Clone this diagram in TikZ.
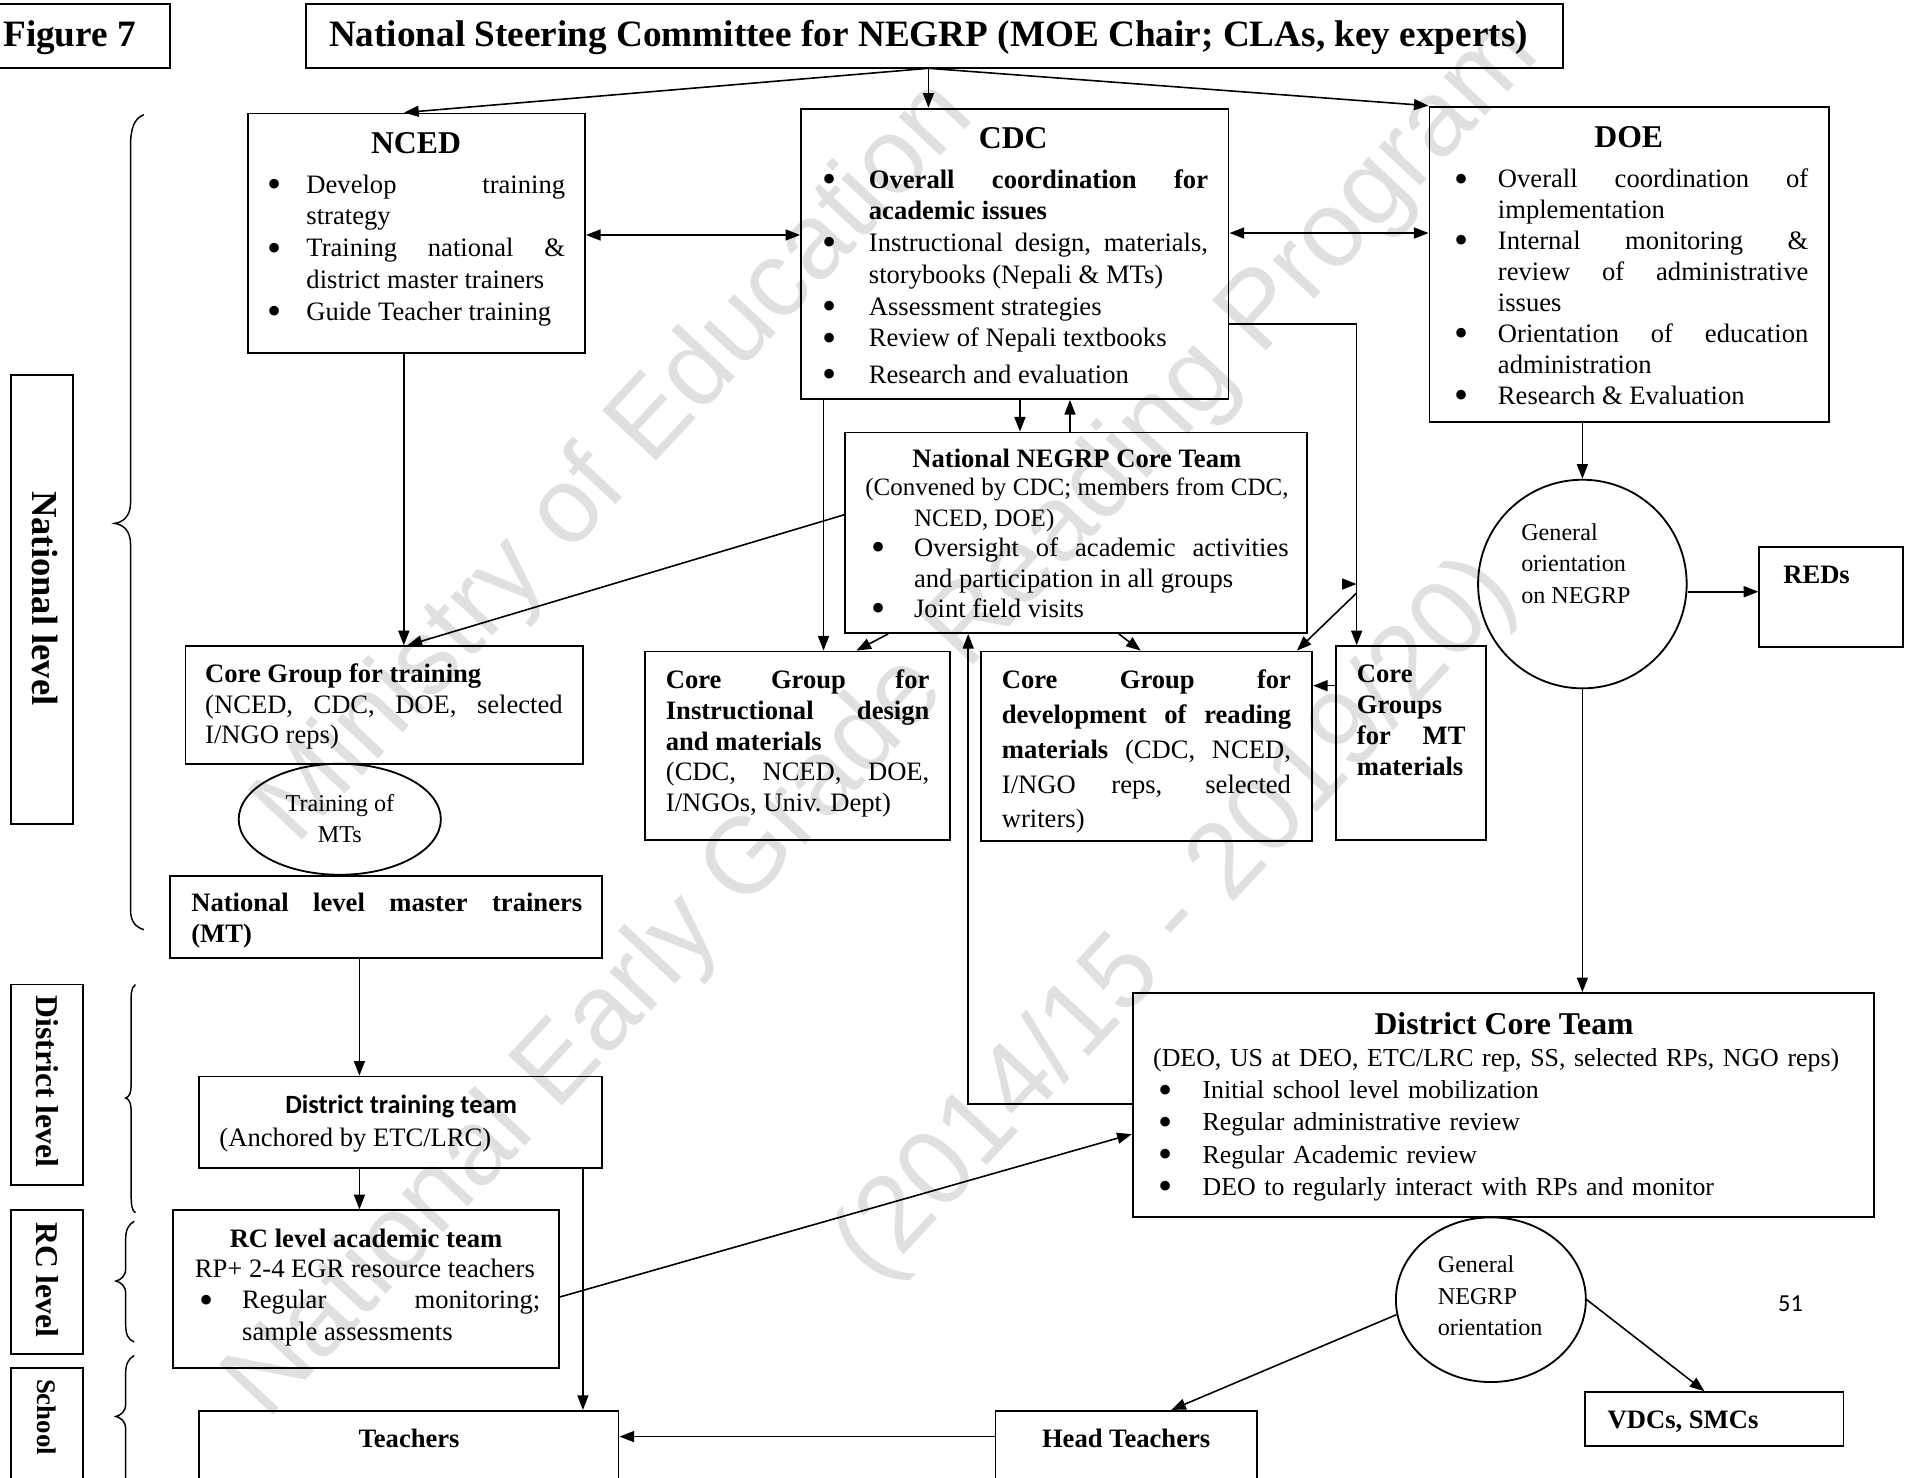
\documentclass[tikz,border=0pt]{standalone}
\usepackage{fontspec}
\setmainfont{Liberation Serif}
\newfontfamily\calib{Carlito}
\newfontfamily\wmfont{Liberation Sans}
\usetikzlibrary{arrows.meta,shapes.geometric,fit}
\hyphenpenalty=10000 \exhyphenpenalty=10000 \tolerance=10000 \hbadness=10000 \vbadness=10000
\newlength\bh \newlength\bo
\newcommand\bul{\raisebox{-3.6pt}{\fontsize{33}{0}\selectfont\textbullet}}
\newcommand\bi[1]{\noindent\hangindent=\bh\hangafter=1\hbox to\bh{\hspace*{\bo}\strut\bul\hfil}#1\par}
\newcommand\bodyf[1]{\fontsize{21.8}{#1}\selectfont}
\tikzset{
 bx/.style={draw, line width=1.5pt, inner sep=0pt, fit={#1}},
 ell/.style={draw, ellipse, line width=1.5pt, inner sep=0pt},
 ln/.style={line width=1.3pt},
 arr/.style={ln, -{Triangle[length=12pt,width=9pt]}},
 darr/.style={ln, {Triangle[length=12pt,width=9pt]}-{Triangle[length=12pt,width=9pt]}},
 txt/.style={anchor=north west, inner sep=0pt, align=justify, text width=#1},
 hd/.style={anchor=base, inner sep=0pt, font=\fontsize{26}{30}\selectfont\bfseries},
 hds/.style={anchor=base, inner sep=0pt, font=\fontsize{21.8}{26}\selectfont\bfseries},
 ttl/.style={inner sep=0pt, font=\fontsize{30.5}{34}\selectfont\bfseries},
 sm/.style={inner sep=0pt, font=\fontsize{19.8}{26}\selectfont, align=left},
 lvl/.style={rotate=-90, inner sep=0pt},
 wm/.style={text=black!12, font=\wmfont\fontsize{88}{100}\selectfont, inner sep=0pt, rotate=47},
 brace/.style={line width=1.2pt},
}
\begin{document}
\begin{tikzpicture}[x=1pt,y=-1pt]
\useasboundingbox (0,0) rectangle (1568,1211);
% watermark
\node[wm] (wm1) at (505,380) {Ministry of Education};
\node[wm] (wm2) at (725,590) {National Early Grade Reading Program};
\node[wm] (wm3) at (965,755) {(2014/15 - 2019/20)};

% top row
\node[bx={(-10,3.3) (139.5,56)}] (fig) {};
\node[ttl, anchor=base west] (figt) at (2.5,38.5) {Figure 7};
\node[bx={(251,3.3) (1281,56)}] (title) {};
\node[ttl, anchor=base] (titlet) at (761,38.5) {National Steering Committee for NEGRP (MOE Chair; CLAs, key experts)};

% NCED
\node[bx={(203,93) (479.5,289.6)}] (nced) {};
\node[hd] (ncedh) at (341,126.1) {NCED};
\node[txt=244pt, font=\bodyf{26}] (ncedt) at (219,140) {\setlength\bh{32pt}\setlength\bo{0pt}%
\bi{Develop training\linebreak strategy}%
\bi{Training national \&\linebreak district master trainers}%
\bi{Guide Teacher training}};

% CDC
\node[bx={(656.6,89) (1007,327)}] (cdc) {};
\node[hd] (cdch) at (830.5,121.6) {CDC};
\node[txt=316pt, font=\bodyf{26}] (cdct) at (674,135.8) {\setlength\bh{38pt}\setlength\bo{0pt}%
\bi{\textbf{Overall coordination for\linebreak academic issues}}%
\bi{Instructional design, materials,\linebreak storybooks (Nepali \& MTs)}%
\bi{Assessment strategies}%
\bi{Review of Nepali textbooks}\vspace{4pt}%
\bi{Research and evaluation}};

% DOE
\node[bx={(1171.7,87.4) (1499,345.6)}] (doe) {};
\node[hd] (doeh) at (1335,120.6) {DOE};
\node[txt=290pt, font=\bodyf{25.4}] (doet) at (1192,135.8) {\setlength\bh{35.6pt}\setlength\bo{0pt}%
\bi{Overall coordination of\linebreak implementation}%
\bi{Internal monitoring \&\linebreak review of administrative\linebreak issues}%
\bi{Orientation of education\linebreak administration}%
\bi{Research \& Evaluation}};

% National NEGRP Core Team
\node[bx={(692.5,354.5) (1071,518.8)}] (nnct) {};
\node[hds] (nncth) at (882.6,383.2) {National NEGRP Core Team};
\node[txt=347pt, font=\bodyf{25}] (nnctt) at (709,388.5) {\setlength\bh{40pt}\setlength\bo{5pt}%
{\fontsize{20.5}{25}\selectfont\noindent\hangindent=40pt\hangafter=1\strut(Convened by CDC; members from CDC,\linebreak NCED, DOE)\par}%
\bi{Oversight of academic activities\linebreak and participation in all groups}%
\bi{Joint field visits}};

% Core Group for training
\node[bx={(152,529.7) (478,626)}] (cgt) {};
\node[txt=293pt, font=\bodyf{25}] (cgtt) at (168,542) {\strut\textbf{Core Group for training}\par
(NCED, CDC, DOE, selected\linebreak I/NGO reps)\par};

% Training of MTs
\node[ell, minimum width=165.7pt, minimum height=91pt] (tme) at (278.5,671.5) {};
\node[sm, align=center] (tmet) at (278.6,671) {Training of\\MTs};

% National level master trainers
\node[bx={(139.5,717.7) (493.4,785)}] (nlmt) {};
\node[txt=320.4pt, font=\bodyf{25}] (nlmtt) at (156.6,729.6) {\strut\textbf{National level master trainers\linebreak (MT)}\par};

% Core Group for Instructional design
\node[bx={(528.5,534) (779,688.5)}] (cgid) {};
\node[txt=216pt, font=\bodyf{25.3}] (cgidt) at (545.6,546.3) {\strut\textbf{Core Group for\linebreak Instructional design\linebreak and materials}\par
(CDC, NCED, DOE,\linebreak I/NGOs, Univ. Dept)\par};

% Core Group for development of reading materials
\node[bx={(804,534) (1075.5,689)}] (cgdrm) {};
\node[txt=237pt, font=\bodyf{28.6}] (cgdrmt) at (821,544) {\strut\textbf{Core Group for\linebreak development of reading\linebreak materials} (CDC, NCED,\linebreak I/NGO reps, selected\linebreak writers)\par};

% Core Groups for MT materials
\node[bx={(1095,529.6) (1218,688.5)}] (cgmt) {};
\node[txt=89pt, font=\bodyf{25.4}] (cgmtt) at (1112,541.7) {\strut\textbf{Core\linebreak Groups\linebreak for MT\linebreak materials}\par};

% General orientation on NEGRP
\node[ell, minimum width=171pt, minimum height=171pt] (gor) at (1297,478.7) {};
\node[sm, anchor=north west] (gort) at (1246.7,424.4) {\strut General\\orientation\\on NEGRP};

% REDs
\node[bx={(1442,448.5) (1560,530.5)}] (reds) {};
\node[hds, anchor=base west] (redst) at (1461.5,478.2) {REDs};

% District Core Team
\node[bx={(928.4,814) (1536,997.8)}] (dct) {};
\node[hd] (dcth) at (1232.8,848.1) {District Core Team};
\node[txt=580pt, align=left, font=\fontsize{21.2}{26.4}\selectfont] (dctt) at (945,855.5) {\setlength\bh{40.5pt}\setlength\bo{4.5pt}%
\strut(DEO, US at DEO, ETC/LRC rep, SS, selected RPs, NGO reps)\par
\bi{Initial school level mobilization}%
\bi{Regular administrative review}%
\bi{Regular Academic review}%
\bi{DEO to regularly interact with RPs and monitor}};

% District training team
\node[bx={(163,882.4) (493.4,957.6)}] (dtt) {};
\node[anchor=base, inner sep=0pt, font=\calib\fontsize{21.6}{26}\selectfont\bfseries] (dtth) at (328.8,912.5) {District training team};
\node[anchor=north west, inner sep=0pt, font=\bodyf{26}] (dttt) at (179.7,921.3) {\strut(Anchored by ETC/LRC)};

% RC level academic team
\node[bx={(142,992) (458.3,1121.6)}] (rc) {};
\node[hds] (rch) at (300,1022.2) {RC level academic team};
\node[txt=283pt, font=\bodyf{25.6}] (rct) at (159.6,1029.1) {\setlength\bh{38.7pt}\setlength\bo{3.4pt}%
\strut RP+ 2-4 EGR resource teachers\par
\bi{Regular monitoring;\linebreak sample assessments}};

% School level
\node[bx={(163,1156.4) (507,1240)}] (teach) {};
\node[hds] (teacht) at (335.3,1186.2) {Teachers};
\node[bx={(816,1156.4) (1030,1240)}] (ht) {};
\node[hds] (htt) at (923,1186.2) {Head Teachers};
\node[bx={(1299,1141) (1511,1185)}] (vdc) {};
\node[hds, anchor=base west] (vdct) at (1317.5,1171) {VDCs, SMCs};

% General NEGRP orientation
\node[ell, minimum width=155.7pt, minimum height=135pt] (gno) at (1222,1065.3) {};
\node[sm, anchor=north west] (gnot) at (1178.3,1024.6) {\strut General\\NEGRP\\orientation};

\node[inner sep=0pt, font=\calib\fontsize{20}{24}\selectfont] (pg) at (1467.6,1068.7) {51};

% level labels
\node[bx={(9,307.4) (59.5,675.7)}] (natb) {};
\node[lvl, font=\fontsize{30}{34}\selectfont\bfseries] (natl) at (37,490.5) {National level};
\node[bx={(9,807) (67.8,971)}] (disb) {};
\node[lvl, font=\fontsize{26}{30}\selectfont\bfseries] (disl) at (39,886.5) {District level};
\node[bx={(9,992) (67.8,1110)}] (rcb) {};
\node[lvl, font=\fontsize{26}{30}\selectfont\bfseries] (rcl) at (39,1049) {RC level};
\node[bx={(9,1121) (67.8,1240)}] (schb) {};
\node[lvl, font=\fontsize{22}{26}\selectfont\bfseries] (schl) at (38,1161.5) {School};

% braces
\draw[brace] (118,94) .. controls (110,97) and (107,105) .. (107,120) -- (107,412) .. controls (107,423) and (101,428) .. (94,429) .. controls (101,430) and (107,435) .. (107,446) -- (107,746) .. controls (107,755) and (111,760) .. (118,762);
\draw[brace] (111,807) .. controls (107,810) and (107.5,815) .. (107.5,825) -- (107.5,888) .. controls (107.5,896) and (106,899) .. (103,900) .. controls (106,901) and (107.5,904) .. (107.5,912) -- (107.5,978) .. controls (107.5,988) and (108,992) .. (111,994);
\draw[brace] (110,1001) .. controls (105,1004) and (103,1008) .. (103,1016) -- (103,1040) .. controls (103,1046) and (99,1049) .. (95,1050) .. controls (99,1051) and (103,1054) .. (103,1060) -- (103,1085) .. controls (103,1094) and (105,1098) .. (110,1100);
\draw[brace] (110,1111) .. controls (105,1114) and (103,1118) .. (103,1126) -- (103,1151) .. controls (103,1157) and (99,1160) .. (95,1161) .. controls (99,1162) and (103,1165) .. (103,1171) -- (103,1220);

% connectors
\coordinate (tsrc) at (761,56);
\draw[arr] (tsrc) -- ([xshift=-10pt]nced.north);
\draw[arr] (tsrc) -- (tsrc |- cdc.north);
\draw[arr] (tsrc) -- (doe.north west);
\draw[darr] (nced.east |- 0,192.6) -- (cdc.west |- 0,192.6);
\draw[darr] (cdc.east |- 0,191) -- (doe.west |- 0,191);
\draw[arr] (nced.south -| 331,0) -- (cgt.north -| 331,0);
\draw[arr] (nnct.west |- 0,422) -- (cgt.north -| 334,0);
\draw[arr] (cdc.south -| 836,0) -- (nnct.north -| 836,0);
\draw[arr] (nnct.north -| 877,0) -- (cdc.south -| 877,0);
\draw[arr] (cdc.south -| 675,0) -- (cgid.north -| 675,0);
\draw[arr] (nnct.south -| 728,0) -- (cgid.north -| 702,0);
\draw[arr] (nnct.south -| 917,0) -- (cgdrm.north -| 935,0);
\coordinate (vx) at (1112,265.6);
\draw[arr] (cdc.east |- vx) -- (vx) -- (vx |- cgmt.north);
\coordinate (vsplit) at (1112,486);
\draw[arr] (vsplit) -- (cgdrm.north -| 1063,0);
\coordinate (stub) at (1101,478.7);
\draw[arr] (stub) -- (stub -| vx);
\draw[arr] (cgmt.west |- 0,562) -- (cgdrm.east |- 0,562);
\draw[arr] (doe.south -| gor.north) -- (gor.north);
\draw[arr] (gor.east |- 0,485) -- (reds.west |- 0,485);
\draw[arr] (gor.south) -- (gor.south |- dct.north);
\coordinate (ret) at (793.6,905);
\draw[arr] (dct.west |- ret) -- (ret) -- (ret |- nnct.south);
\draw[arr] (nlmt.south -| 294.6,0) -- (dtt.north -| 294.6,0);
\draw[arr] (dtt.south -| 294.6,0) -- (rc.north -| 294.6,0);
\draw[arr] (dtt.south -| 477.8,0) -- (teach.north -| 477.8,0);
\draw[arr] (rc.east |- 0,1063) -- (dct.west |- 0,929.6);
\draw[arr] (ht.west |- 0,1177.5) -- (teach.east |- 0,1177.5);
\draw[arr] (gno.189) -- (ht.north -| 960,0);
\draw[arr] (gno.east) -- (vdc.north -| 1397,0);
\end{tikzpicture}
\end{document}
